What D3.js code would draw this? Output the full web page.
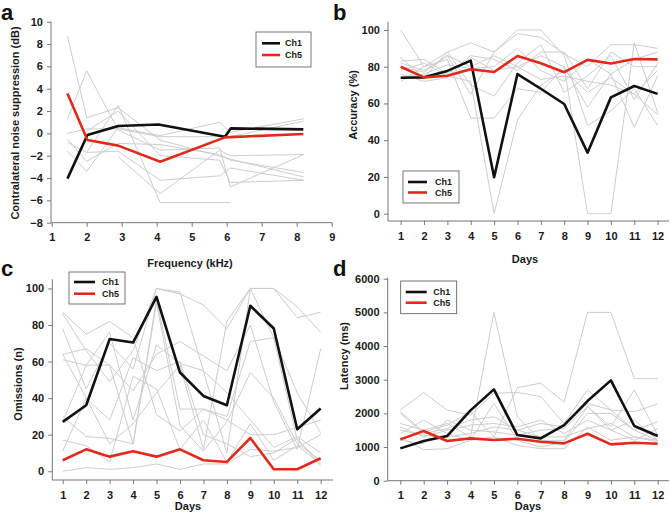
<!DOCTYPE html>
<html><head><meta charset="utf-8">
<script src="https://cdn.jsdelivr.net/npm/d3@7"></script>
<style>
body{margin:0;background:#fff;}
text{font-family:"Liberation Sans",Arial,sans-serif;}
</style></head>
<body><svg id="c" width="670" height="522"></svg>
<script>
// ---------- DATA ----------
// Panel a: frequency (kHz) vs contralateral noise suppression (dB)
const aCh1 = [[1.45,-4.05],[2.02,-0.15],[2.9,0.66],[4.05,0.8],[5.95,-0.3],[6.12,0.45],[8.19,0.36]];
const aCh5 = [[1.45,3.58],[2.02,-0.6],[2.9,-1.1],[4.1,-2.54],[5.95,-0.36],[8.19,-0.06]];
const aGray = [
  [[1.45,8.7],[2,1.4],[2.9,2.3],[4.1,-0.6],[6.1,-2.3],[8.2,-3.9]],
  [[1.45,1.3],[2,5.6],[2.9,0.3],[4.1,-1.5],[5.8,-1.3],[6.1,-4.8],[8.2,-1.9]],
  [[1.45,-0.8],[2,-1.7],[2.9,2.5],[4.1,-6.2],[6.1,-6.2]],
  [[1.45,-1.6],[2,-3.4],[2.9,0.5],[4.1,-0.2],[5.8,1.0],[6.1,0.1],[8.2,1.3]],
  [[2.9,-2.1],[4.1,-5.4],[5.8,-1.5],[6.1,-2.0],[8.2,-1.9]],
  [[1.45,0.0],[2,0.4],[2.9,0.4],[4.1,-0.3],[6.1,-0.3],[8.2,1.1]],
  [[1.45,-0.5],[2,-2.5],[2.9,-0.9],[4.1,-1.0],[5.8,-1.9],[6.1,-2.4],[8.2,-3.5]],
  [[2,-1.7],[2.9,-1.6],[4.1,-4.2],[5.8,-3.8],[6.1,-3.1],[8.2,-4.2]],
  [[2,0.2],[2.9,2.0],[4.1,-2.0],[5.8,-2.4],[6.1,-4.4],[8.2,-4.2]]
];
const aXTicks = [1,2,3,4,5,6,7,8,9];
const aYTicks = [-8,-6,-4,-2,0,2,4,6,8,10];

const days = [1,2,3,4,5,6,7,8,9,10,11,12];

// Panel b: accuracy (%)
const bCh1 = [74,74.2,77.7,83.3,19.8,76,68,59.7,33.2,63.3,69.5,65.2];
const bCh5 = [80,74.2,75.1,78.6,77.1,85.8,81.9,77,83.7,81.7,84.2,84];
const bGray = [
  [100,80,88,93,88,98,96,87,80,92,92,90],
  [82,78,86,80,86,80,86,80,0,0,93,55],
  [72,80,84,52,52,68,66,80,58,76,47,75],
  [80,77,86,65,88,100,100,86,48,56,68,48],
  [83,84,76,86,84,78,88,88,68,88,80,80],
  [76,72,74,85,78,80,73,75,72,70,65,54],
  [74,76,81,79,80,90,78,72,84,76,84,88],
  [78,82,75,72,0,51,70,78,66,74,65,78],
  [85,74,88,70,64,82,92,66,75,86,62,82]
];
const bYTicks = [0,20,40,60,80,100];

// Panel c: omissions (n)
const cCh1 = [27,36.1,72.3,70.4,95.4,54,41.2,36.1,90.5,78.1,23,34.3];
const cCh5 = [6,12,8,11,8,12,6,5.1,18.2,1.1,1.1,7.1];
const cGray = [
  [0,2,1,2,4,1,4,4,12,11,13,20],
  [87,75,82,73,31,22,34,28,20,20,24,28],
  [86,66,49,66,100,98,55,10,100,100,84,87],
  [78,45,70,56,100,97,91,78,100,100,90,76],
  [64,67,58,44,64,71,63,55,80,38,12,67],
  [61,58,58,15,94,34,34,30,71,73,43,21],
  [30,19,18,15,92,25,11,27,54,40,15,6],
  [17,14,5,52,45,12,28,5,26,6,14,4],
  [27,58,76,28,69,59,55,43,28,13,19,10],
  [11,40,28,62,55,60,20,15,8,10,18,3],
  [64,40,15,26,43,58,12,82,100,73,17,5]
];
const cYTicks = [0,20,40,60,80,100];

// Panel d: latency (ms)
const dCh1 = [960,1178,1327,2089,2713,1356,1257,1653,2366,2980,1624,1327];
const dCh5 = [1228,1475,1178,1257,1208,1248,1158,1109,1396,1079,1129,1099];
const dGray = [
  [2050,1450,1650,2050,1300,2760,2900,2330,5000,5000,3030,3030],
  [2100,2620,2100,1950,2600,2620,2500,1700,2700,2100,1500,1200],
  [1700,1500,1700,1300,5000,1900,1200,1200,2200,1600,2700,1350],
  [1300,920,950,1200,1300,1050,950,950,1600,1200,1300,1200],
  [1400,1800,1400,1200,2300,1200,1000,1150,2000,2000,1500,1750],
  [2000,1400,1550,1800,1900,1500,1700,1600,2300,2100,2050,2280],
  [1600,1300,1500,1650,1700,1600,1800,1400,1800,1500,1200,1550],
  [1200,1100,1800,1500,1450,1350,1500,1550,2200,1500,1800,1200],
  [1500,1350,1300,1400,1600,1500,1300,1300,1550,1700,1300,1150]
];
const dYTicks = [0,1000,2000,3000,4000,5000,6000];

const seriesNames = ["Ch1","Ch5"];
const seriesColors = ["#111111","#e02a1c"];

// ---------- DRAWING ----------
const svg = d3.select("#c");
const GRAY = "#cdcdcd";

function panel(cfg){
  const g = svg.append("g");
  const x = d3.scaleLinear().domain(cfg.xDomain).range(cfg.xRange);
  const y = d3.scaleLinear().domain(cfg.yDomain).range(cfg.yRange);
  const line = d3.line().x(d=>x(d[0])).y(d=>y(d[1]));

  // gray individual lines
  g.append("g").selectAll("path").data(cfg.gray).join("path")
    .attr("d", line).attr("fill","none").attr("stroke",GRAY).attr("stroke-width",1);
  // main series
  [cfg.ch1, cfg.ch5].forEach((s,i)=>{
    g.append("path").attr("d", line(s)).attr("fill","none")
      .attr("stroke", seriesColors[i]).attr("stroke-width",2.6)
      .attr("stroke-linejoin","round");
  });

  // axes
  const xAxis = g.append("g").attr("transform",`translate(0,${cfg.xAxisY})`)
    .call(d3.axisBottom(x).tickValues(cfg.xTicks).tickSize(4).tickSizeOuter(0).tickFormat(d3.format("d")));
  const yAxis = g.append("g").attr("transform",`translate(${cfg.yAxisX},0)`)
    .call(d3.axisLeft(y).tickValues(cfg.yTicks).tickSize(4).tickSizeOuter(0).tickFormat(d3.format("d")));
  [xAxis,yAxis].forEach(ax=>{
    ax.select(".domain").remove();
    ax.selectAll(".tick line").attr("stroke","#777");
    ax.selectAll(".tick text").attr("fill","#1a1a1a").style("font-size","11px").style("font-weight","bold");
  });
  xAxis.selectAll(".tick text").attr("dy","1.05em");
  yAxis.selectAll(".tick text").attr("dx","-0.1em");
  // axis lines
  g.append("line").attr("x1",cfg.yAxisX).attr("x2",cfg.xEnd).attr("y1",cfg.xAxisY).attr("y2",cfg.xAxisY)
    .attr("stroke","#777").attr("stroke-width",1);
  g.append("line").attr("x1",cfg.yAxisX).attr("x2",cfg.yAxisX).attr("y1",cfg.yTop).attr("y2",cfg.xAxisY)
    .attr("stroke","#777").attr("stroke-width",1);

  // axis titles
  g.append("text").attr("x",cfg.xTitle[0]).attr("y",cfg.xTitle[1]).attr("text-anchor","middle")
    .style("font-size","11px").style("font-weight","bold").attr("fill","#1a1a1a").text(cfg.xLabel);
  g.append("text").attr("transform",`translate(${cfg.yTitle[0]},${cfg.yTitle[1]}) rotate(-90)`)
    .attr("text-anchor","middle").style("font-size","11px").style("font-weight","bold").attr("fill","#1a1a1a").text(cfg.yLabel);

  // panel letter
  g.append("text").attr("x",cfg.letterPos[0]).attr("y",cfg.letterPos[1])
    .style("font-size","22px").style("font-weight","bold").attr("fill","#111").text(cfg.letter);

  // legend
  const L = cfg.legend;
  g.append("rect").attr("x",L.x).attr("y",L.y).attr("width",L.w).attr("height",L.h)
    .attr("fill","#fff").attr("stroke","#555").attr("stroke-width",0.8);
  seriesNames.forEach((n,i)=>{
    const yy = L.y + L.r0 + i*L.dr;
    g.append("line").attr("x1",L.x+L.l0).attr("x2",L.x+L.l1).attr("y1",yy).attr("y2",yy)
      .attr("stroke",seriesColors[i]).attr("stroke-width",2.6);
    g.append("text").attr("x",L.x+L.t).attr("y",yy).attr("dy","0.35em")
      .style("font-size","9px").style("font-weight","bold").attr("fill","#1a1a1a").text(n);
  });
}

const toPts = arr => arr.map((v,i)=>[days[i],v]);

panel({
  xDomain:[1,9], xRange:[51.7,331.7], yDomain:[-8,10], yRange:[222.7,21.7],
  gray:aGray, ch1:aCh1, ch5:aCh5, xTicks:aXTicks, yTicks:aYTicks,
  xAxisY:222.7, yAxisX:51, xEnd:332, yTop:21.7,
  xLabel:"Frequency (kHz)", xTitle:[190,267], yLabel:"Contralateral noise suppression (dB)", yTitle:[19,123],
  letter:"a", letterPos:[1,20],
  legend:{x:256,y:32,w:55,h:35,r0:11.3,dr:11.7,l0:6,l1:24,t:29}
});
panel({
  xDomain:[0.5,12.5], xRange:[389,669.3], yDomain:[-4,104.5], yRange:[221,21.7],
  gray:bGray.map(toPts), ch1:toPts(bCh1), ch5:toPts(bCh5), xTicks:days, yTicks:bYTicks,
  xAxisY:221, yAxisX:388, xEnd:669, yTop:21.7,
  xLabel:"Days", xTitle:[525,263], yLabel:"Accuracy (%)", yTitle:[357,105],
  letter:"b", letterPos:[333,20],
  legend:{x:403,y:171,w:56,h:32,r0:11,dr:10.5,l0:5,l1:24,t:32}
});
panel({
  xDomain:[0.5,12.5], xRange:[51,332.4], yDomain:[-5,105], yRange:[480.4,279.3],
  gray:cGray.map(toPts), ch1:toPts(cCh1), ch5:toPts(cCh5), xTicks:days, yTicks:cYTicks,
  xAxisY:480, yAxisX:52.3, xEnd:333, yTop:279.3,
  xLabel:"Days", xTitle:[188,510], yLabel:"Omissions (n)", yTitle:[22,384],
  letter:"c", letterPos:[1,276],
  legend:{x:69,y:272,w:56,h:32,r0:10,dr:11.7,l0:5,l1:26,t:33}
});
panel({
  xDomain:[0.5,12.5], xRange:[388.6,669.4], yDomain:[0,6000], yRange:[480.7,278.7],
  gray:dGray.map(toPts), ch1:toPts(dCh1), ch5:toPts(dCh5), xTicks:days, yTicks:dYTicks,
  xAxisY:480.7, yAxisX:387.7, xEnd:669, yTop:277.7,
  xLabel:"Days", xTitle:[528,510], yLabel:"Latency (ms)", yTitle:[348,356],
  letter:"d", letterPos:[333,276],
  legend:{x:400.7,y:281,w:56,h:32.7,r0:11,dr:10.7,l0:5,l1:26,t:32.6}
});
</script></body></html>
